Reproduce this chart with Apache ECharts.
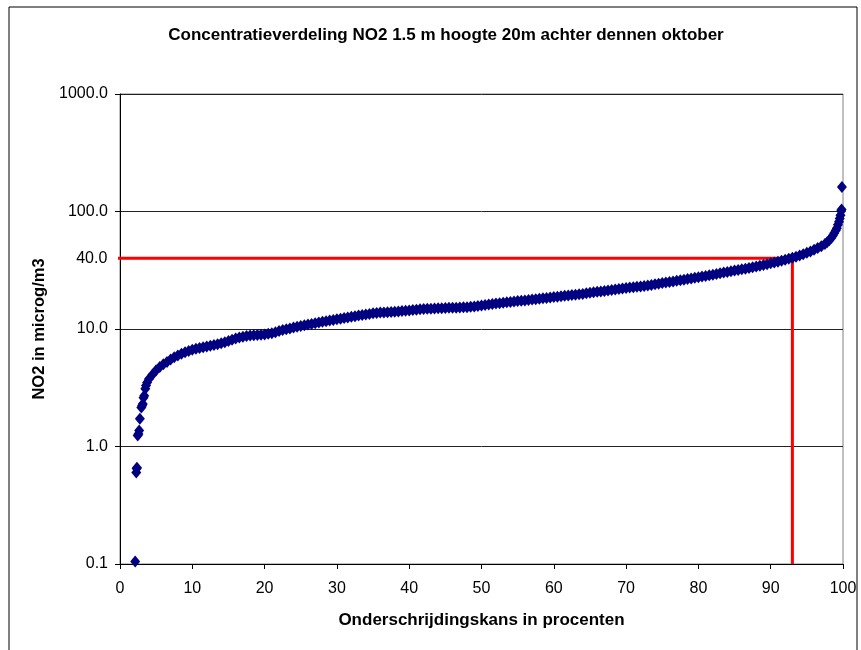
<!DOCTYPE html>
<html>
<head>
<meta charset="utf-8">
<script src="https://cdn.jsdelivr.net/npm/echarts@6/dist/echarts.min.js"></script>
<style>
  html, body { margin: 0; padding: 0; background: #fff; }
  #chart { width: 861px; height: 650px; }
</style>
</head>
<body>
<div id="chart"></div>
<script>
// Texts
const chartTitle = 'Concentratieverdeling NO2 1.5 m hoogte 20m achter dennen oktober';
const xAxisTitle = 'Onderschrijdingskans in procenten';
const yAxisTitle = 'NO2 in microg/m3';

// Axis ticks
const xTicks = [0, 10, 20, 30, 40, 50, 60, 70, 80, 90, 100];
const yTicks = [0.1, 1, 10, 100, 1000];

// 40 µg/m3 limit and the percentile where the curve reaches it
const limitValue = 40;
const limitPct = 93;

// Cumulative distribution: non-exceedance probability (%) ...
const exceedPct = [
  2.1, 2.25, 2.3, 2.35, 2.45, 2.55, 2.65, 2.75, 2.95, 3.05, 3.15, 3.25, 3.35, 3.5, 3.6, 3.75,
  4.0, 4.5, 5.0, 5.5, 6.0, 6.5, 7.0, 7.5, 8.0, 8.5,
  9.0, 9.5, 10.0, 10.5, 11.0, 11.5, 12.0, 12.5, 13.0, 13.5,
  14.0, 14.5, 15.0, 15.5, 16.0, 16.5, 17.0, 17.5, 18.0, 18.5,
  19.0, 19.5, 20.0, 20.5, 21.0, 21.5, 22.0, 22.5, 23.0, 23.5,
  24.0, 24.5, 25.0, 25.5, 26.0, 26.5, 27.0, 27.5, 28.0, 28.5,
  29.0, 29.5, 30.0, 30.5, 31.0, 31.5, 32.0, 32.5, 33.0, 33.5,
  34.0, 34.5, 35.0, 35.5, 36.0, 36.5, 37.0, 37.5, 38.0, 38.5,
  39.0, 39.5, 40.0, 40.5, 41.0, 41.5, 42.0, 42.5, 43.0, 43.5,
  44.0, 44.5, 45.0, 45.5, 46.0, 46.5, 47.0, 47.5, 48.0, 48.5,
  49.0, 49.5, 50.0, 50.5, 51.0, 51.5, 52.0, 52.5, 53.0, 53.5,
  54.0, 54.5, 55.0, 55.5, 56.0, 56.5, 57.0, 57.5, 58.0, 58.5,
  59.0, 59.5, 60.0, 60.5, 61.0, 61.5, 62.0, 62.5, 63.0, 63.5,
  64.0, 64.5, 65.0, 65.5, 66.0, 66.5, 67.0, 67.5, 68.0, 68.5,
  69.0, 69.5, 70.0, 70.5, 71.0, 71.5, 72.0, 72.5, 73.0, 73.5,
  74.0, 74.5, 75.0, 75.5, 76.0, 76.5, 77.0, 77.5, 78.0, 78.5,
  79.0, 79.5, 80.0, 80.5, 81.0, 81.5, 82.0, 82.5, 83.0, 83.5,
  84.0, 84.5, 85.0, 85.5, 86.0, 86.5, 87.0, 87.5, 88.0, 88.5,
  89.0, 89.5, 90.0, 90.5, 91.0, 91.5, 92.0, 92.5, 93.0, 93.5,
  94.0, 94.5, 95.0, 95.5, 96.0, 96.5, 97.0, 97.5,
  97.8, 98.1, 98.4, 98.6, 98.8, 99.0, 99.15, 99.3, 99.45, 99.55, 99.65, 99.75, 99.8, 99.85
];

// ... and the NO2 concentration (µg/m3) at that probability
const no2Conc = [
  0.105, 0.60, 0.65, 0.66, 1.24, 1.28, 1.37, 1.72, 2.15, 2.22, 2.3, 2.6, 2.7, 3.1, 3.3, 3.5,
  3.75, 4.1, 4.45, 4.75, 5.0, 5.25, 5.5, 5.75, 5.95, 6.15,
  6.35, 6.5, 6.65, 6.8, 6.9, 7.0, 7.1, 7.2, 7.3, 7.4,
  7.55, 7.7, 7.9, 8.1, 8.3, 8.45, 8.6, 8.7, 8.8, 8.85,
  8.9, 8.95, 9.0, 9.1, 9.2, 9.4, 9.6, 9.8, 9.95, 10.1,
  10.3, 10.45, 10.6, 10.75, 10.9, 11.05, 11.2, 11.35, 11.5, 11.65,
  11.8, 11.95, 12.1, 12.25, 12.4, 12.55, 12.7, 12.85, 13.0, 13.15,
  13.3, 13.45, 13.6, 13.7, 13.8, 13.85, 13.9, 13.95, 14.0, 14.1,
  14.2, 14.3, 14.4, 14.5, 14.6, 14.7, 14.8, 14.85, 14.9, 14.95,
  15.0, 15.05, 15.1, 15.15, 15.2, 15.2, 15.25, 15.3, 15.35, 15.45,
  15.55, 15.7, 15.85, 16.0, 16.15, 16.3, 16.45, 16.6, 16.75, 16.9,
  17.0, 17.15, 17.3, 17.4, 17.5, 17.65, 17.8, 17.95, 18.1, 18.25,
  18.4, 18.55, 18.7, 18.85, 19.0, 19.15, 19.3, 19.45, 19.6, 19.75,
  19.9, 20.1, 20.3, 20.5, 20.7, 20.9, 21.1, 21.3, 21.5, 21.7,
  21.9, 22.1, 22.3, 22.5, 22.7, 22.85, 23.0, 23.2, 23.4, 23.7,
  24.0, 24.3, 24.6, 24.85, 25.1, 25.4, 25.7, 26.0, 26.3, 26.6,
  26.9, 27.25, 27.6, 27.95, 28.3, 28.65, 29.0, 29.4, 29.8, 30.2,
  30.6, 31.0, 31.4, 31.8, 32.2, 32.6, 33.0, 33.5, 34.0, 34.5,
  35.0, 35.6, 36.2, 36.8, 37.4, 38.1, 38.8, 39.6, 40.4, 41.2,
  42.2, 43.3, 44.5, 45.7, 47.2, 48.8, 50.7, 53.0,
  54.8, 57.0, 59.8, 62.5, 65.5, 69, 72, 77, 82, 87, 93, 101, 104, 162
];

const FONT = 'Liberation Sans, Arial, sans-serif';
const curveData = exceedPct.map((p, i) => [p, no2Conc[i]]);

const chart = echarts.init(document.getElementById('chart'), null, { renderer: 'canvas' });

chart.setOption({
  animation: false,
  backgroundColor: '#ffffff',
  title: {
    text: chartTitle,
    left: 441,
    top: 22,
    textAlign: 'center',
    textStyle: { fontFamily: FONT, fontSize: 17, fontWeight: 'bold', color: '#000' }
  },
  graphic: [{
    type: 'rect',
    shape: { x: 9, y: 7, width: 848, height: 680 },
    style: { fill: 'none', stroke: '#000', lineWidth: 1 },
    silent: true,
    z: -1
  }],
  grid: {
    left: 120, right: 18, top: 94, bottom: 86,
    show: true, borderColor: '#808080', borderWidth: 1, backgroundColor: 'transparent'
  },
  xAxis: {
    type: 'value',
    min: xTicks[0],
    max: xTicks[xTicks.length - 1],
    interval: 10,
    name: xAxisTitle,
    nameLocation: 'middle',
    nameGap: 48,
    nameTextStyle: { fontFamily: FONT, fontSize: 17, fontWeight: 'bold', color: '#000' },
    axisLine: { show: true, lineStyle: { color: '#000', width: 1 } },
    axisTick: { show: true, inside: false, length: 5, lineStyle: { color: '#000' } },
    axisLabel: { margin: 17, fontFamily: FONT, fontSize: 16, color: '#000' },
    splitLine: { show: false }
  },
  yAxis: {
    type: 'log',
    logBase: 10,
    min: yTicks[0],
    max: yTicks[yTicks.length - 1],
    name: yAxisTitle,
    nameLocation: 'middle',
    nameRotate: 90,
    nameGap: 69,
    nameTextStyle: { fontFamily: FONT, fontSize: 16.5, fontWeight: 'bold', color: '#000' },
    axisLine: { show: true, lineStyle: { color: '#000', width: 1 } },
    axisTick: { show: true, inside: false, length: 5, lineStyle: { color: '#000' } },
    axisLabel: {
      margin: 12, fontFamily: FONT, fontSize: 16, color: '#000',
      formatter: v => Number(v).toFixed(1)
    },
    splitLine: { show: true, lineStyle: { color: '#222', width: 1 } },
    minorTick: { show: false }
  },
  series: [
    {
      name: 'NO2',
      type: 'scatter',
      data: curveData,
      symbol: 'diamond',
      symbolSize: [10, 12],
      itemStyle: { color: '#000080', opacity: 1 },
      z: 3
    },
    {
      name: 'grens',
      type: 'line',
      data: [[-0.85, limitValue], [limitPct, limitValue], [limitPct, yTicks[0]]],
      showSymbol: false,
      symbol: 'none',
      clip: false,
      lineStyle: { color: '#ff0000', width: 3 },
      z: 2
    },
    {
      name: 'grenslabel',
      type: 'scatter',
      data: [[-0.85, limitValue]],
      symbolSize: 1,
      clip: false,
      itemStyle: { color: 'rgba(0,0,0,0)', opacity: 1 },
      label: {
        show: true, position: 'left', distance: 6,
        formatter: () => limitValue.toFixed(1),
        fontFamily: FONT, fontSize: 16, color: '#000'
      },
      z: 4
    }
  ]
});
</script>
</body>
</html>
